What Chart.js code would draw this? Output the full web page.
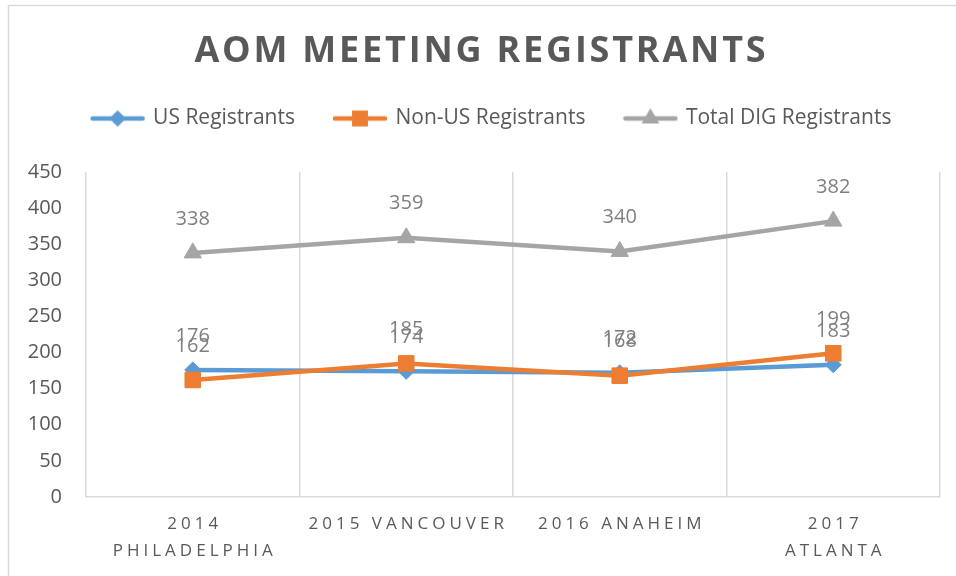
<!DOCTYPE html>
<html>
<head>
<meta charset="utf-8">
<script src="https://cdn.jsdelivr.net/npm/chart.js@4/dist/chart.umd.min.js"></script>
<style>
  html, body { margin: 0; padding: 0; background: #fff; }
  canvas { display: block; }
</style>
</head>
<body>
<canvas id="myChart" width="956" height="576"></canvas>
<script>
const CATEGORIES = [["2014", "PHILADELPHIA"], ["2015 VANCOUVER"], ["2016 ANAHEIM"], ["2017", "ATLANTA"]];
const US_VALUES = [176, 174, 172, 183];
const NON_US_VALUES = [162, 185, 168, 199];
const TOTAL_VALUES = [338, 359, 340, 382];
const Y_TICKS = [0, 50, 100, 150, 200, 250, 300, 350, 400, 450];

const TITLE = "AOM MEETING REGISTRANTS";
const TEXT_COLOR = "#595959";
const LABEL_COLOR = "#7f7f7f";
const GRID_COLOR = "#d9d9d9";

const BLUE = "#5b9bd5";
const ORANGE = "#ed7d31";
const GRAY = "#a5a5a5";

// small canvas with a line and the marker in the middle, used as legend symbol
function legendSymbol(color, style, radius) {
  const c = document.createElement("canvas");
  c.width = 56;
  c.height = 24;
  const g = c.getContext("2d");
  g.strokeStyle = color;
  g.lineWidth = 4.5;
  g.lineCap = "round";
  g.beginPath();
  g.moveTo(3, 12);
  g.lineTo(53, 12);
  g.stroke();
  g.fillStyle = color;
  Chart.helpers.drawPoint(g, { pointStyle: style, radius: radius, rotation: 0, borderWidth: 0 }, 28, 12);
  g.fill();
  return c;
}

const legendMargin = {
  id: "legendMargin",
  beforeInit(chart) {
    const fit = chart.legend.fit;
    chart.legend.fit = function () {
      fit.call(this);
      this.height += 33;
    };
  },
  afterLayout(chart) {
    // the legend in the picture sits a bit right of the canvas centre
    chart.legend.left += 12;
    chart.legend.right += 12;
  },
};

const decorations = {
  id: "decorations",
  beforeDraw(chart) {
    const ctx = chart.ctx;
    ctx.save();
    ctx.fillStyle = "#fff";
    ctx.fillRect(0, 0, chart.width, chart.height);
    ctx.strokeStyle = GRID_COLOR;
    ctx.lineWidth = 1.5;
    ctx.strokeRect(8.5, 5.5, 2000, 2000);
    ctx.restore();
  },
  afterDatasetsDraw(chart) {
    const ctx = chart.ctx;
    ctx.save();
    ctx.font = "20px 'Open Sans'";
    ctx.fillStyle = LABEL_COLOR;
    ctx.textAlign = "center";
    ctx.textBaseline = "middle";
    chart.data.datasets.forEach((ds, i) => {
      const meta = chart.getDatasetMeta(i);
      meta.data.forEach((pt, j) => {
        ctx.fillText(String(ds.data[j]), pt.x, pt.y - 34);
      });
    });
    ctx.restore();
  },
  afterDraw(chart) {
    const ctx = chart.ctx;
    ctx.save();
    // title, letter-spaced
    ctx.font = "bold 36px 'Open Sans'";
    ctx.fillStyle = TEXT_COLOR;
    ctx.textAlign = "center";
    ctx.textBaseline = "middle";
    ctx.letterSpacing = "2.8px";
    ctx.fillText(TITLE, 480 + 1.4, 52);

    // category labels, letter-spaced
    const x = chart.scales.x;
    ctx.font = "17px 'Open Sans'";
    ctx.letterSpacing = "4px";
    CATEGORIES.forEach((lines, i) => {
      const px = x.getPixelForTick(i);
      lines.forEach((line, k) => {
        ctx.fillText(line, px + 2, chart.chartArea.bottom + 27 + k * 27);
      });
    });
    ctx.restore();
  },
};

const symbols = [
  legendSymbol(BLUE, "rectRot", 8),
  legendSymbol(ORANGE, "rect", 11),
  legendSymbol(GRAY, "triangle", 10),
];

const ctx = document.getElementById("myChart").getContext("2d");

new Chart(ctx, {
  type: "line",
  data: {
    labels: CATEGORIES.map((c) => c.join(" ")),
    datasets: [
      {
        label: "US Registrants",
        data: US_VALUES,
        borderColor: BLUE,
        backgroundColor: BLUE,
        borderWidth: 4.5,
        pointStyle: "rectRot",
        pointRadius: 8,
        pointBorderWidth: 1,
        order: 2,
      },
      {
        label: "Non-US Registrants",
        data: NON_US_VALUES,
        borderColor: ORANGE,
        backgroundColor: ORANGE,
        borderWidth: 4.5,
        pointStyle: "rect",
        pointRadius: 11,
        pointBorderWidth: 1,
        order: 1,
      },
      {
        label: "Total DIG Registrants",
        data: TOTAL_VALUES,
        borderColor: GRAY,
        backgroundColor: GRAY,
        borderWidth: 4.5,
        pointStyle: "triangle",
        pointRadius: 10,
        pointBorderWidth: 1,
        order: 3,
      },
    ],
  },
  options: {
    responsive: false,
    animation: false,
    layout: {
      padding: { top: 68, left: 20, right: 16, bottom: 79 },
    },
    scales: {
      x: {
        offset: true,
        grid: { offset: true, color: GRID_COLOR, lineWidth: 1.5, drawTicks: false },
        border: { color: GRID_COLOR, width: 1.5 },
        ticks: { display: false },
      },
      y: {
        min: 0,
        max: Y_TICKS[Y_TICKS.length - 1],
        afterFit: function (scale) {
          scale.width = 66;
        },
        afterBuildTicks: function (scale) {
          scale.ticks = Y_TICKS.map((v) => ({ value: v }));
        },
        grid: { display: false, drawTicks: false },
        border: { display: false },
        ticks: {
          padding: 24,
          color: TEXT_COLOR,
          font: { family: "'Open Sans'", size: 20 },
        },
      },
    },
    plugins: {
      title: { display: false },
      tooltip: { enabled: false },
      legend: {
        position: "top",
        labels: {
          usePointStyle: true,
          pointStyleWidth: 50,
          padding: 40,
          color: TEXT_COLOR,
          font: { family: "'Open Sans'", size: 21 },
          generateLabels: function (chart) {
            return chart.data.datasets.map(function (dataset, i) {
              return {
                text: dataset.label,
                pointStyle: symbols[i],
                fillStyle: dataset.borderColor,
                strokeStyle: dataset.borderColor,
                lineWidth: 0,
                hidden: !chart.isDatasetVisible(i),
                datasetIndex: i,
                fontColor: TEXT_COLOR,
              };
            });
          },
        },
      },
    },
  },
  plugins: [legendMargin, decorations],
});
</script>
</body>
</html>
